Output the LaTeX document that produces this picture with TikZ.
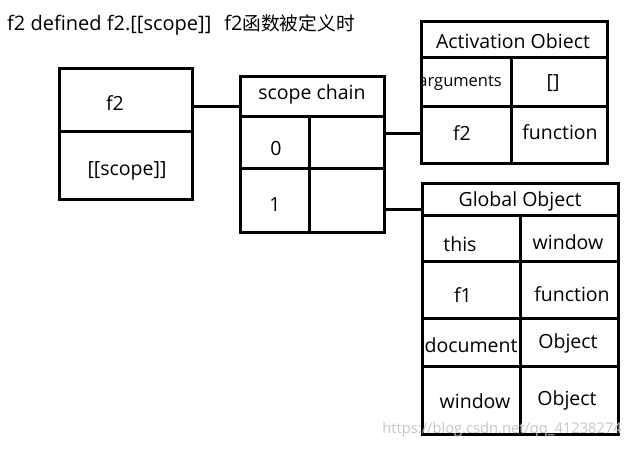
\documentclass[tikz,border=0pt]{standalone}
\usepackage{fontspec}
\setmainfont{Open Sans}
\newfontfamily\cjkfont{Noto Sans CJK SC}
\begin{document}
\begin{tikzpicture}[x=1pt,y=-1pt,
  cell/.style={draw=black, line width=3pt, anchor=north west, inner sep=0pt, outer sep=0pt},
  txt/.style={inner sep=0pt, yshift=-1.5pt, font=\fontsize{19.5}{22}\selectfont},
  small/.style={inner sep=0pt, yshift=-1.5pt, font=\fontsize{16.5}{19}\selectfont},
  wire/.style={draw=black, line width=3pt}]
\useasboundingbox (0,0) rectangle (633,449);
\fill[white] (0,0) rectangle (633,449);

% title
\node[txt, anchor=west, font=\fontsize{20}{22}\selectfont] (title) at (7,23) {f2 defined f2.[[scope]]\hspace{13pt}f2{\cjkfont\fontsize{18.7}{22}\selectfont 函数被定义时}};

% f2 function object
\node[cell, minimum width=133pt, minimum height=63pt] (f2top) at (59,69) {};
\node[cell, minimum width=133pt, minimum height=68pt] (f2bot) at (59,132) {};
\node[txt] (f2name) at (115,102) {f2};
\node[txt] (f2scope) at (127,169) {[[scope]]};

% scope chain
\node[cell, minimum width=144pt, minimum height=40pt] (schead) at (240,77) {};
\node[cell, minimum width=69pt, minimum height=52pt] (sc0a) at (240,117) {};
\node[cell, minimum width=75pt, minimum height=52pt] (sc0b) at (309,117) {};
\node[cell, minimum width=69pt, minimum height=64pt] (sc1a) at (240,169) {};
\node[cell, minimum width=75pt, minimum height=64pt] (sc1b) at (309,169) {};
\node[txt] (sctitle) at (312,93) {scope chain};
\node[txt] (sc0) at (276,147) {0};
\node[txt] (sc1) at (275,203) {1};

% activation object
\node[cell, minimum width=186pt, minimum height=36pt] (aohead) at (421,22) {};
\node[cell, minimum width=90pt, minimum height=49pt] (aoargk) at (421,58) {};
\node[cell, minimum width=96pt, minimum height=49pt] (aoargv) at (511,58) {};
\node[cell, minimum width=90pt, minimum height=57pt] (aof2k) at (421,107) {};
\node[cell, minimum width=96pt, minimum height=57pt] (aof2v) at (511,107) {};
\node[txt] (aotitle) at (513,40) {Activation Obiect};
\begin{scope}
\clip (422.5,59.5) rectangle (509.5,105.5);
\node[small, anchor=east] (aoargs) at (502,82) {arguments};
\end{scope}
\node[txt] (aoarr) at (553,82) {[]};
\node[txt] (aof2) at (462,132) {f2};
\node[txt] (aofun) at (560,131) {function};

% global object
\node[cell, minimum width=196pt, minimum height=32pt] (gohead) at (422,184) {};
\node[cell, minimum width=98pt, minimum height=46pt] (go1k) at (422,216) {};
\node[cell, minimum width=98pt, minimum height=46pt] (go1v) at (520,216) {};
\node[cell, minimum width=98pt, minimum height=57pt] (go2k) at (422,262) {};
\node[cell, minimum width=98pt, minimum height=57pt] (go2v) at (520,262) {};
\node[cell, minimum width=98pt, minimum height=48pt] (go3k) at (422,319) {};
\node[cell, minimum width=98pt, minimum height=48pt] (go3v) at (520,319) {};
\node[cell, minimum width=98pt, minimum height=68pt] (go4k) at (422,367) {};
\node[cell, minimum width=98pt, minimum height=68pt] (go4v) at (520,367) {};
\node[txt] (gotitle) at (520,200) {Global Object};
\node[txt] (gothis) at (460,243) {this};
\node[txt] (gowin) at (568,241) {window};
\node[txt] (gof1) at (463,294) {f1};
\node[txt] (gofun) at (572,293) {function};
\node[txt] (godoc) at (471,344) {document};
\node[txt] (goobj1) at (568,342) {Object};
\node[txt] (gowin2) at (475,400) {window};
\node[txt] (goobj2) at (567,399) {Object};

% connectors
\draw[wire] (f2top.east |- 0,107) -- (schead.west |- 0,107);
\draw[wire] (sc0b.east |- 0,134) -- (aof2k.west |- 0,134);
\draw[wire] (sc1b.east |- 0,210) -- (gohead.west |- 0,210);

% watermark
\node[inner sep=0pt, anchor=east, text=black!22, font=\fontsize{14.7}{17}\selectfont] (wm) at (622,430) {https://blog.csdn.net/qq\_41238274};
\end{tikzpicture}
\end{document}
